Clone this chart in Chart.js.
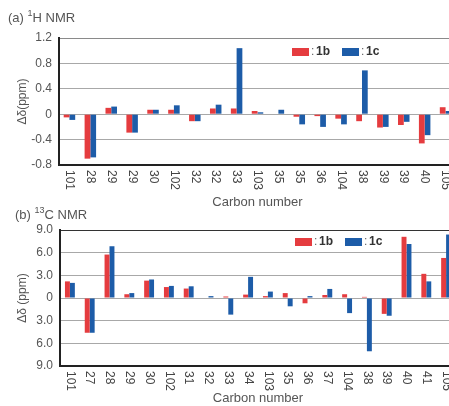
<!DOCTYPE html>
<html><head><meta charset="utf-8">
<script src="https://cdn.jsdelivr.net/npm/chart.js@4/dist/chart.umd.min.js"></script>
<style>
html,body{margin:0;padding:0;background:#fff;overflow:hidden;width:449px;height:406px;}
canvas{position:absolute;left:0;}
#c1{top:0}
#c2{top:195px}
</style></head><body>
<canvas id="c1" width="456" height="210"></canvas>
<canvas id="c2" width="456" height="211"></canvas>
<script>
// (a) 1H NMR
const hCategories = ['101','28','29','29','30','102','32','32','33','103','35','35','36','104','38','39','39','40','105'];
const h1b = [-0.05,-0.70,0.10,-0.29,0.07,0.07,-0.11,0.09,0.09,0.05,0.00,-0.04,-0.03,-0.07,-0.11,-0.21,-0.17,-0.46,0.11];
const h1c = [-0.09,-0.68,0.12,-0.29,0.07,0.14,-0.11,0.15,1.04,0.03,0.07,-0.16,-0.20,-0.16,0.69,-0.20,-0.12,-0.33,0.05];
const hYTickLabels = ['-0.8','-0.4','0','0.4','0.8','1.2'];

// (b) 13C NMR
const cCategories = ['101','27','28','29','30','102','31','32','33','34','103','35','36','37','104','38','39','40','41','105'];
const c1b = [2.2,-4.6,5.75,0.5,2.3,1.45,1.25,0.0,0.2,0.45,0.25,0.65,-0.7,0.4,0.5,0.15,-2.1,8.1,3.2,5.3];
const c1c = [2.0,-4.6,6.85,0.65,2.45,1.6,1.55,0.25,-2.2,2.8,0.85,-1.1,0.25,1.2,-2.0,-7.05,-2.35,7.15,2.2,8.4];
const cYTickLabels = ['9.0','6.0','3.0','0','3.0','6.0','9.0'];

const seriesNames = ['1b','1c'];
const RED = '#e53c3f', BLUE = '#1d5ca8';
const FONT = "'Liberation Sans', Arial, sans-serif";

const decor = {
  id: 'decor',
  afterDraw(chart, args, opts) {
    const ctx = chart.ctx, ca = chart.chartArea, xs = chart.scales.x;
    ctx.save();
    ctx.textBaseline = 'middle'; ctx.textAlign = 'left';
    // panel title with superscript isotope number
    let tx = opts.titleX;
    ctx.fillStyle = '#555';
    ctx.font = '13px ' + FONT; ctx.fillText(opts.titlePre, tx, opts.titleY); tx += ctx.measureText(opts.titlePre).width;
    ctx.font = '9px ' + FONT; ctx.fillText(opts.titleSup, tx, opts.titleY - 4); tx += ctx.measureText(opts.titleSup).width;
    ctx.font = '13px ' + FONT; ctx.fillText(opts.titlePost, tx, opts.titleY);
    // rotated category labels
    ctx.font = '12px ' + FONT; ctx.fillStyle = '#444';
    chart.data.labels.forEach((lab, i) => {
      const x = xs.getPixelForTick(i);
      ctx.save(); ctx.translate(x, ca.bottom + 5); ctx.rotate(Math.PI / 2);
      ctx.textAlign = 'left'; ctx.textBaseline = 'middle';
      ctx.fillText(lab, 0, 0); ctx.restore();
    });
    // legend inside plot
    let lx = opts.legendX; const ly = opts.legendY;
    chart.data.datasets.forEach(ds => {
      ctx.fillStyle = ds.backgroundColor; ctx.fillRect(lx, ly - 4, 17, 8); lx += 19;
      ctx.fillStyle = '#666'; ctx.font = '12px ' + FONT; ctx.fillText(':', lx, ly); lx += 5;
      ctx.fillStyle = '#333'; ctx.font = 'bold 12px ' + FONT; ctx.fillText(ds.label, lx, ly);
      lx += ctx.measureText(ds.label).width + 12;
    });
    ctx.restore();
  }
};

function makeChart(id, labels, b, c, opt) {
  return new Chart(document.getElementById(id), {
    type: 'bar',
    data: {
      labels: labels,
      datasets: [
        {label: seriesNames[0], data: b, backgroundColor: RED, borderWidth: 0, barPercentage: 1, categoryPercentage: opt.cat},
        {label: seriesNames[1], data: c, backgroundColor: BLUE, borderWidth: 0, barPercentage: 1, categoryPercentage: opt.cat}
      ]
    },
    options: {
      responsive: false, animation: false, devicePixelRatio: 1,
      layout: {padding: {top: opt.padTop, left: 0, right: 0, bottom: 0}},
      plugins: {
        legend: {display: false}, tooltip: {enabled: false}, title: {display: false},
        decor: {titlePre: opt.titlePre, titleSup: opt.titleSup, titlePost: opt.titlePost,
                titleX: opt.titleX, titleY: opt.titleY, legendX: opt.legendX, legendY: opt.legendY}
      },
      scales: {
        x: {
          ticks: {display: false},
          grid: {display: false},
          border: {color: '#222', width: 2},
          title: {display: true, text: 'Carbon number', color: '#555', font: {size: 13, family: FONT}, padding: {top: 0, bottom: 0}},
          afterFit(s) { s.height = opt.xHeight; }
        },
        y: {
          min: opt.min, max: opt.max,
          ticks: {stepSize: opt.step, color: '#555', font: {size: 12, family: FONT}, padding: 7,
                  callback: (v, i) => opt.tickLabels[i]},
          grid: {drawTicks: false, lineWidth: 1, color: ctx => (ctx.tick && ctx.tick.value === opt.max) ? opt.topColor : '#a8a8a8'},
          border: {color: '#222', width: 2},
          title: {display: true, text: opt.yTitle, color: '#555', font: {size: 12, family: FONT}, padding: {top: 15, bottom: 0}},
          afterFit(s) { s.width = opt.yWidth; }
        }
      }
    },
    plugins: [decor]
  });
}

makeChart('c1', hCategories, h1b, h1c, {
  cat: 0.55, padTop: 38, xHeight: 45, yWidth: 59, min: -0.8, max: 1.2, step: 0.4,
  tickLabels: hYTickLabels, yTitle: 'Δδ(ppm)', topColor: '#8a8a8a',
  titlePre: '(a) ', titleSup: '1', titlePost: 'H NMR', titleX: 8, titleY: 18, legendX: 292, legendY: 52
});
makeChart('c2', cCategories, c1b, c1c, {
  cat: 0.5, padTop: 35, xHeight: 40, yWidth: 60, min: -9, max: 9, step: 3,
  tickLabels: cYTickLabels, yTitle: 'Δδ (ppm)', topColor: '#333',
  titlePre: '(b) ', titleSup: '13', titlePost: 'C NMR', titleX: 15, titleY: 20, legendX: 295, legendY: 47
});
</script>
</body></html>
